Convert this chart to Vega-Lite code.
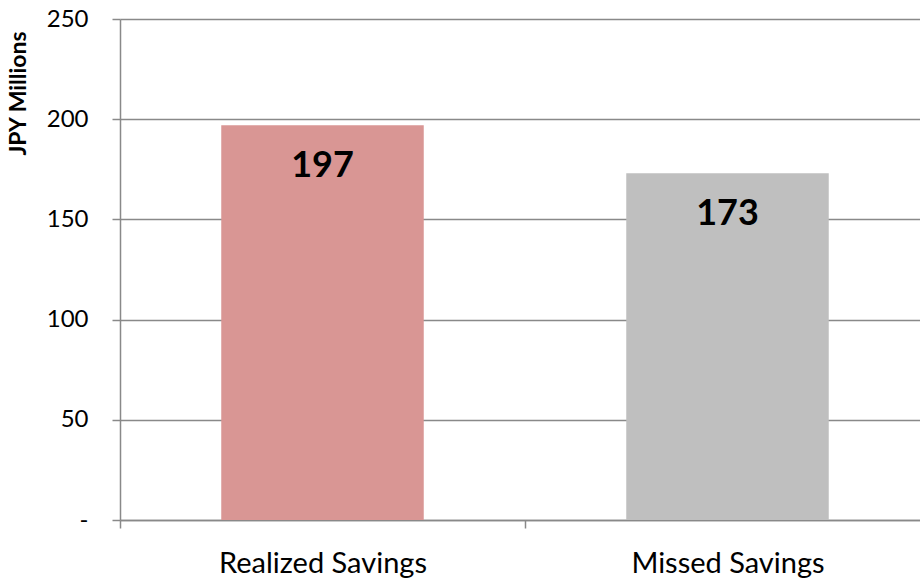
{
  "$schema": "https://vega.github.io/schema/vega-lite/v6.json",
  "autosize": "none",
  "padding": {"left": 120, "top": 19, "right": 0, "bottom": 59},
  "width": 810,
  "height": 501,
  "background": "white",
  "config": {
    "view": {"stroke": null},
    "font": "Lato"
  },
  "data": {
    "values": [
      {"category": "Realized Savings", "value": 197},
      {"category": "Missed Savings", "value": 173}
    ]
  },
  "encoding": {
    "x": {
      "field": "category",
      "type": "nominal",
      "sort": null,
      "scale": {"paddingInner": 0, "paddingOuter": 0},
      "axis": {
        "title": null,
        "labelAngle": 0,
        "labelLimit": 0,
        "tickBand": "extent",
        "labelFont": "Lato",
        "labelFontSize": 29,
        "labelColor": "#000000",
        "labelBaseline": "alphabetic",
        "labelPadding": 44,
        "tickSize": 8,
        "tickColor": "#898989",
        "tickWidth": 1.5,
        "domainColor": "#898989",
        "domainWidth": 1.5,
        "grid": false
      }
    },
    "y": {
      "field": "value",
      "type": "quantitative",
      "scale": {"domain": [0, 250], "nice": false},
      "axis": {
        "values": [0, 50, 100, 150, 200, 250],
        "labelExpr": "datum.value == 0 ? '-' : datum.label",
        "title": "JPY Millions",
        "titleFont": "Lato",
        "titleFontSize": 23,
        "titleFontWeight": "bold",
        "titleColor": "#000000",
        "titleX": -102,
        "titleY": 74,
        "titleAlign": "center",
        "titleBaseline": "middle",
        "titleAngle": -90,
        "labelFont": "Lato",
        "labelFontSize": 24,
        "labelColor": "#000000",
        "labelPadding": 24,
        "tickSize": 8,
        "tickColor": "#898989",
        "tickWidth": 1.5,
        "domainColor": "#898989",
        "domainWidth": 1.5,
        "grid": true,
        "gridColor": "#898989",
        "gridWidth": 1.5
      }
    }
  },
  "layer": [
    {
      "mark": {"type": "bar", "width": {"band": 0.5}},
      "encoding": {
        "color": {
          "field": "category",
          "type": "nominal",
          "scale": {"domain": ["Realized Savings", "Missed Savings"], "range": ["#D99694", "#BFBFBF"]},
          "legend": null
        }
      }
    },
    {
      "mark": {"type": "text", "dy": 41, "baseline": "middle", "font": "Lato", "fontSize": 36, "fontWeight": "bold", "color": "#000000"},
      "encoding": {
        "text": {"field": "value", "type": "quantitative"}
      }
    }
  ]
}
